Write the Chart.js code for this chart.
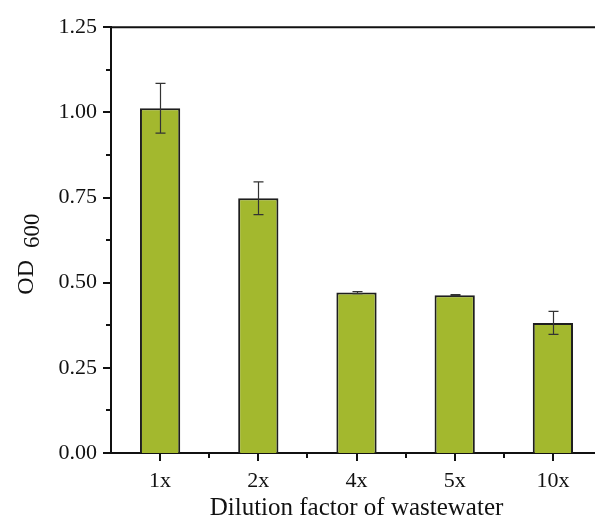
<!DOCTYPE html>
<html>
<head>
<meta charset="utf-8">
<script src="https://cdn.jsdelivr.net/npm/chart.js@4/dist/chart.umd.min.js"></script>
<style>
  html, body { margin: 0; padding: 0; background: #ffffff; overflow: hidden; }
  #wrap { width: 610px; height: 523px; }
</style>
</head>
<body>
<div id="wrap"><canvas id="c" width="610" height="523"></canvas></div>
<script>
const categories = ['1x', '2x', '4x', '5x', '10x'];
const odValues = [1.012, 0.748, 0.471, 0.463, 0.382];
const odErrors = [0.073, 0.048, 0.003, 0.002, 0.034];
const yTicks = [0, 0.25, 0.5, 0.75, 1.0, 1.25];
const yMinorStep = 0.125;

const FONT = '"Liberation Serif", "Times New Roman", serif';
const INK = '#111111';

const decorPlugin = {
  id: 'decor',
  afterDatasetsDraw(chart) {
    const ctx = chart.ctx;
    const y = chart.scales.y;
    const meta = chart.getDatasetMeta(0);
    ctx.save();
    ctx.strokeStyle = '#333333';
    ctx.lineWidth = 1.2;
    meta.data.forEach((bar, i) => {
      const cx = Math.round(bar.x) + 0.5;
      const top = y.getPixelForValue(odValues[i] + odErrors[i]);
      const bot = y.getPixelForValue(odValues[i] - odErrors[i]);
      const cap = 5;
      ctx.beginPath();
      ctx.moveTo(cx, top); ctx.lineTo(cx, bot);
      ctx.moveTo(cx - cap, top); ctx.lineTo(cx + cap, top);
      ctx.moveTo(cx - cap, bot); ctx.lineTo(cx + cap, bot);
      ctx.stroke();
    });
    ctx.restore();
  },
  afterDraw(chart) {
    const ctx = chart.ctx;
    const x = chart.scales.x, y = chart.scales.y;
    const area = chart.chartArea;
    ctx.save();
    ctx.strokeStyle = INK;
    ctx.lineWidth = 2;
    // top frame line
    ctx.beginPath();
    ctx.moveTo(area.left - 1, area.top);
    ctx.lineTo(area.right + 10, area.top);
    ctx.stroke();
    // y ticks (major + minor)
    const yMax = yTicks[yTicks.length - 1];
    for (let k = 0; k * yMinorStep <= yMax + 1e-9; k++) {
      const v = k * yMinorStep;
      const py = Math.round(y.getPixelForValue(v));
      const len = (k % 2 === 0) ? 8 : 5;
      ctx.beginPath();
      ctx.moveTo(area.left - len, py);
      ctx.lineTo(area.left, py);
      ctx.stroke();
    }
    // x ticks: major at categories, minor at category boundaries
    const pts = categories.map((c, i) => x.getPixelForValue(i));
    pts.forEach(px => {
      ctx.beginPath();
      ctx.moveTo(Math.round(px), area.bottom);
      ctx.lineTo(Math.round(px), area.bottom + 8);
      ctx.stroke();
    });
    for (let i = 0; i < pts.length - 1; i++) {
      const px = Math.round((pts[i] + pts[i + 1]) / 2);
      ctx.beginPath();
      ctx.moveTo(px, area.bottom);
      ctx.lineTo(px, area.bottom + 5);
      ctx.stroke();
    }
    // y title: "OD" with subscript "600"
    ctx.fillStyle = INK;
    ctx.translate(33, (area.top + area.bottom) / 2 + 14);
    ctx.rotate(-Math.PI / 2);
    ctx.textBaseline = 'alphabetic';
    ctx.textAlign = 'left';
    const odText = 'OD';
    const subText = '600';
    ctx.font = '24px ' + FONT;
    const w1 = ctx.measureText(odText + '  ').width;
    ctx.font = '23px ' + FONT;
    const w2 = ctx.measureText(subText).width;
    const total = w1 + w2;
    ctx.font = '24px ' + FONT;
    ctx.fillText(odText, -total / 2, 0);
    ctx.font = '23px ' + FONT;
    ctx.fillText(subText, -total / 2 + w1, 6);
    ctx.restore();
  }
};

new Chart(document.getElementById('c'), {
  type: 'bar',
  data: {
    labels: categories,
    datasets: [{
      data: odValues,
      backgroundColor: '#a3b82e',
      borderColor: '#1e1e1e',
      borderWidth: 2,
      borderSkipped: 'bottom',
      categoryPercentage: 1.0,
      barPercentage: 0.41
    }]
  },
  options: {
    responsive: false,
    animation: false,
    layout: { padding: { left: 0, right: 8, top: 25, bottom: 0 } },
    plugins: { legend: { display: false }, tooltip: { enabled: false } },
    scales: {
      x: {
        grid: { display: false, drawTicks: false },
        border: { display: true, color: INK, width: 2 },
        ticks: { color: INK, font: { family: FONT, size: 22 }, padding: 15 },
        title: {
          display: true,
          text: 'Dilution factor of wastewater',
          color: INK,
          font: { family: FONT, size: 25 },
          padding: { top: 0, bottom: 0 }
        },
        afterFit(s) { s.height = 70; }
      },
      y: {
        min: 0,
        max: 1.25,
        grid: { display: false, drawTicks: false },
        border: { display: true, color: INK, width: 2 },
        ticks: {
          color: INK,
          font: { family: FONT, size: 22 },
          padding: 14,
          callback: v => Number(v).toFixed(2)
        },
        afterBuildTicks(s) { s.ticks = yTicks.map(v => ({ value: v })); },
        afterFit(s) { s.width = 111; }
      }
    }
  },
  plugins: [decorPlugin]
});
</script>
</body>
</html>
